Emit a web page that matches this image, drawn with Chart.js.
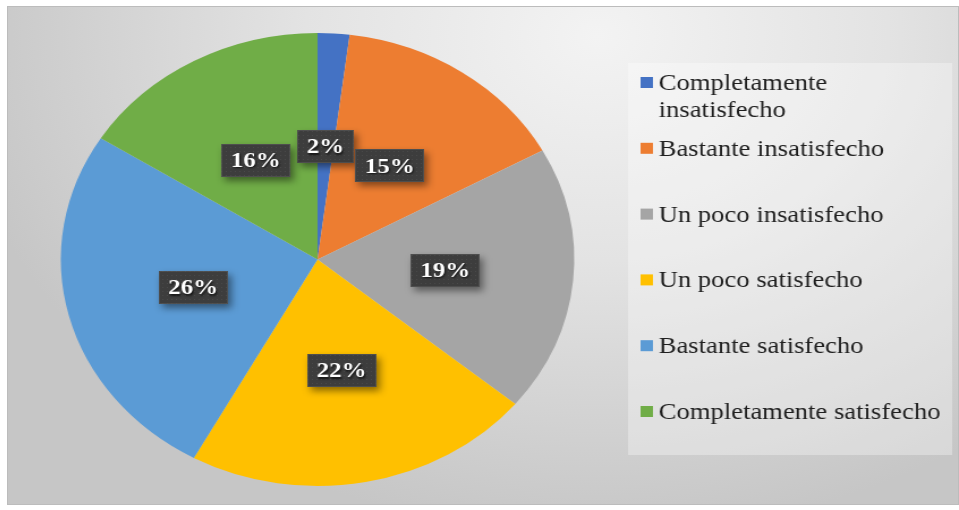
<!DOCTYPE html>
<html>
<head>
<meta charset="utf-8">
<script src="https://cdn.jsdelivr.net/npm/chart.js@4.4.1/dist/chart.umd.min.js"></script>
<style>
	html, body { margin: 0; padding: 0; background: #fff; }
	#frame {
		position: absolute; left: 7px; top: 6px; width: 952px; height: 499px; overflow: hidden;
		background: radial-gradient( ellipse 68% 100% at 62% 6%, #f3f3f3 0%, #e3e3e3 45%, #c6c6c6 100% );
		box-shadow: inset 0 0 0 1px #bcbcbc;
	}
	/* the whole picture is drawn 840 wide and stretched out to the frame */
	#chart { position: absolute; left: 0; top: 0; transform: scaleX( 1.1333 ); transform-origin: 0 0; }
</style>
</head>
<body>
<div id="frame">
	<canvas id="chart" width="840" height="499" style="width:840px;height:499px"></canvas>
</div>
<script>

	// Survey answers, in slice order (clockwise from 12 o'clock).
	const categories = [
		"Completamente insatisfecho",
		"Bastante insatisfecho",
		"Un poco insatisfecho",
		"Un poco satisfecho",
		"Bastante satisfecho",
		"Completamente satisfecho"
	];
	const shares = [ 2, 15, 19, 22, 26, 16 ];
	const sliceColors = [ "#4472C4", "#ED7D31", "#A5A5A5", "#FFC000", "#5B9BD5", "#70AD47" ];

	const SERIF = "'Liberation Serif', 'Times New Roman', serif";

	/*
	 * Small dotted fill used behind the percent labels.
	 */
	function dotPattern( ctx )
	{
		const tile = document.createElement( "canvas" );
		tile.width = 4;
		tile.height = 4;
		const t = tile.getContext( "2d" );
		t.fillStyle = "#3d3d3d";
		t.fillRect( 0, 0, 4, 4 );
		t.fillStyle = "#4a4a4a";
		t.fillRect( 1, 1, 1, 1 );
		return( ctx.createPattern( tile, "repeat" ) );
	}

	/*
	 * Dark percent tags at the middle of each slice.
	 */
	const pctLabels = {
		id: "pctLabels",
		afterDatasetsDraw: function( chart )
		{
			const ctx = chart.ctx;
			const meta = chart.getDatasetMeta( 0 );
			const fill = dotPattern( ctx );
			ctx.save();
			ctx.font = "bold 22px " + SERIF;
			ctx.textAlign = "center";
			ctx.textBaseline = "middle";
			meta.data.forEach( ( arc, i ) =>
			{
				const p = arc.getCenterPoint();
				const text = chart.data.datasets[0].data[i] + "%";
				const w = Math.round( ctx.measureText( text ).width + 17 );
				const h = 33;
				const x = Math.round( p.x - w / 2 );
				const y = Math.round( p.y - h / 2 );

				// Box with a soft drop shadow.
				ctx.save();
				ctx.shadowColor = "rgba( 0, 0, 0, 0.45 )";
				ctx.shadowBlur = 7;
				ctx.shadowOffsetX = 3;
				ctx.shadowOffsetY = 4;
				ctx.fillStyle = fill;
				ctx.fillRect( x, y, w, h );
				ctx.restore();
				ctx.strokeStyle = "rgba( 90, 90, 90, 0.6 )";
				ctx.lineWidth = 1;
				ctx.strokeRect( x + 0.5, y + 0.5, w - 1, h - 1 );

				// White text, lightly shadowed.
				ctx.save();
				ctx.shadowColor = "rgba( 0, 0, 0, 0.7 )";
				ctx.shadowBlur = 2;
				ctx.shadowOffsetX = 1;
				ctx.shadowOffsetY = 1.5;
				ctx.fillStyle = "#ffffff";
				ctx.fillText( text, p.x, p.y + 1 );
				ctx.restore();
			});
			ctx.restore();
		}
	};

	/*
	 * Legend panel on the right, with word wrap.
	 */
	const sideLegend = {
		id: "sideLegend",
		afterDraw: function( chart )
		{
			const ctx = chart.ctx;
			const box = { x: 548, y: 57, w: 286, h: 392 };
			const textX = 575;
			const markX = 559;
			const maxWidth = 255;
			const lineHeight = 27;
			const firstBase = 84;
			const step = 65.8;

			ctx.save();
			ctx.fillStyle = "rgba( 255, 255, 255, 0.32 )";
			ctx.fillRect( box.x, box.y, box.w, box.h );

			ctx.font = "23.5px " + SERIF;
			ctx.textAlign = "left";
			ctx.textBaseline = "alphabetic";

			chart.data.labels.forEach( ( label, i ) =>
			{
				const base = firstBase + step * i;

				// Break the label into lines that fit the panel.
				const lines = [];
				let line = "";
				label.split( " " ).forEach( word =>
				{
					const next = line ? line + " " + word : word;
					if( line && ctx.measureText( next ).width > maxWidth )
					{
						lines.push( line );
						line = word;
					}
					else {
						line = next;
					}
				});
				lines.push( line );

				ctx.fillStyle = chart.data.datasets[0].backgroundColor[i];
				ctx.fillRect( markX, base - 13, 11, 11 );

				ctx.fillStyle = "#1f1f1f";
				lines.forEach( ( text, k ) => ctx.fillText( text, textX, base + k * lineHeight ) );
			});
			ctx.restore();
		}
	};

	function draw()
	{
		new Chart( document.getElementById( "chart" ), {
			type: "pie",
			data: {
				labels: categories,
				datasets: [{
					data: shares,
					backgroundColor: sliceColors,
					borderWidth: 0
				}]
			},
			options: {
				responsive: false,
				devicePixelRatio: 1,
				animation: false,
				layout: {
					padding: { left: 47.5, top: 27, right: 339.5, bottom: 19 }
				},
				plugins: {
					legend: { display: false },
					title: { display: false },
					tooltip: { enabled: false }
				}
			},
			plugins: [ pctLabels, sideLegend ]
		});
	}

	// Canvas text needs the serif faces ready before the first paint.
	Promise.all([
		document.fonts.load( "23.5px 'Liberation Serif'" ),
		document.fonts.load( "bold 22px 'Liberation Serif'" )
	]).then( draw, draw );

</script>
</body>
</html>
